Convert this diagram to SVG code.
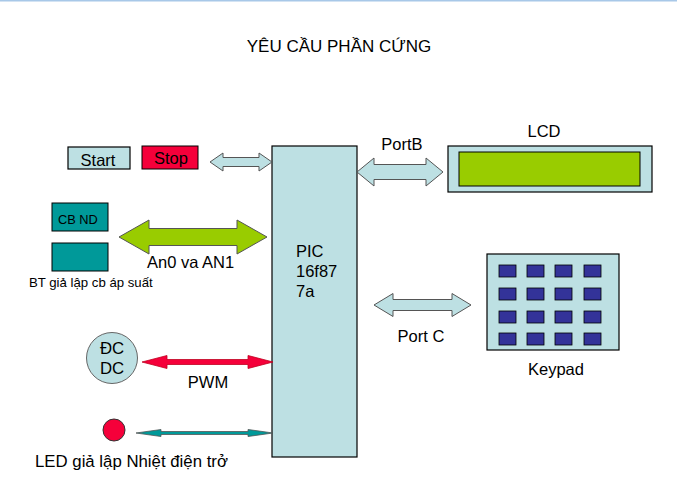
<svg xmlns="http://www.w3.org/2000/svg" width="677" height="499" viewBox="0 0 677 499">
<style>
text{font-family:"Liberation Sans",Arial,sans-serif;fill:#000;font-size:16.5px;}
.lb{fill:#bde0e3;stroke:#000;stroke-width:1.2;}
.teal{fill:#009999;stroke:#000;stroke-width:1;}
.key{fill:#333399;stroke:#000;stroke-width:0.8;}
.arw{stroke:#555;stroke-width:1;stroke-linejoin:miter;}
</style>
<rect width="677" height="499" fill="#fff"/>
<line x1="0" y1="0.5" x2="677" y2="0.5" stroke="#a8c8e8" stroke-width="2"/>
<text x="339" y="52" style="font-size:17px" text-anchor="middle">YÊU CẦU PHẦN CỨNG</text>

<g id="start"><rect class="lb" x="68" y="147" width="62" height="22"/><text x="98" y="166" text-anchor="middle">Start</text></g>
<g id="stop"><rect x="142" y="146" width="56" height="23" fill="#f5003a" stroke="#000" stroke-width="1"/><text x="171" y="164" text-anchor="middle">Stop</text></g>
<g id="cbnd"><rect class="teal" x="52" y="203" width="56" height="28"/><text x="58" y="224" style="font-size:12.8px">CB ND</text></g>
<g id="btcb"><rect class="teal" x="52" y="243" width="56" height="28"/><text x="29" y="287" style="font-size:13.2px">BT giả lập cb áp suất</text></g>
<g id="dcmotor"><circle cx="112" cy="358" r="25.5" fill="#bde0e3" stroke="#666" stroke-width="1"/><text x="112" y="354" style="font-size:16.8px" text-anchor="middle">ĐC</text><text x="112" y="374" style="font-size:16.8px" text-anchor="middle">DC</text></g>
<g id="led"><circle cx="114" cy="430" r="11" fill="#f5003a" stroke="#333" stroke-width="1"/><text x="35" y="467" style="font-size:16.8px">LED giả lập Nhiệt điện trở</text></g>
<g id="pic"><rect class="lb" x="272" y="146" width="85" height="311"/><text x="296" y="257">PIC</text><text x="296" y="277">16f87</text><text x="296" y="297">7a</text></g>
<g id="lcd"><rect class="lb" x="448" y="146" width="204" height="46"/><rect x="459" y="152" width="181" height="34" fill="#99cc00" stroke="#000" stroke-width="1"/><text x="544" y="137" text-anchor="middle">LCD</text></g>
<g id="keypad"><rect class="lb" x="487" y="254" width="132" height="96"/>
<rect class="key" x="499" y="265" width="17" height="12"/><rect class="key" x="527" y="265" width="17" height="12"/><rect class="key" x="555" y="265" width="17" height="12"/><rect class="key" x="584" y="265" width="17" height="12"/>
<rect class="key" x="499" y="288" width="17" height="12"/><rect class="key" x="527" y="288" width="17" height="12"/><rect class="key" x="555" y="288" width="17" height="12"/><rect class="key" x="584" y="288" width="17" height="12"/>
<rect class="key" x="499" y="311" width="17" height="12"/><rect class="key" x="527" y="311" width="17" height="12"/><rect class="key" x="555" y="311" width="17" height="12"/><rect class="key" x="584" y="311" width="17" height="12"/>
<rect class="key" x="499" y="333" width="17" height="12"/><rect class="key" x="527" y="333" width="17" height="12"/><rect class="key" x="555" y="333" width="17" height="12"/><rect class="key" x="584" y="333" width="17" height="12"/>
<text x="556" y="375" text-anchor="middle">Keypad</text></g>

<g id="connectors">
<path class="arw" fill="#bde0e3" d="M210 162 L223 153 L223 157.5 L259 157.5 L259 153 L272 162 L259 171 L259 166.5 L223 166.5 L223 171 Z"/>
<path class="arw" fill="#bde0e3" d="M357 172 L374 158 L374 164.5 L426 164.5 L426 158 L443 172 L426 186 L426 179.5 L374 179.5 L374 186 Z"/>
<text x="402" y="150" text-anchor="middle">PortB</text>
<path class="arw" fill="#99cc00" d="M119 237 L149 220 L149 228.5 L237 228.5 L237 220 L267 237 L237 254 L237 245.5 L149 245.5 L149 254 Z"/>
<text x="147" y="268">An0 va AN1</text>
<path stroke="#c00020" stroke-width="0.8" fill="#f5003a" d="M142 362 L167 355.5 L167 359.5 L248 359.5 L248 355.5 L273 362 L248 368.5 L248 364.5 L167 364.5 L167 368.5 Z"/>
<text x="208" y="388" text-anchor="middle">PWM</text>
<path stroke="#555" stroke-width="0.8" fill="#009999" d="M136 433 L161 429.5 L161 431.5 L248 431.5 L248 429.5 L273 433 L248 436.5 L248 434.5 L161 434.5 L161 436.5 Z"/>
<path class="arw" fill="#bde0e3" d="M374 305 L393 293.5 L393 299.5 L452 299.5 L452 293.5 L471 305 L452 316.5 L452 310.5 L393 310.5 L393 316.5 Z"/>
<text x="421" y="342" text-anchor="middle">Port C</text>
</g>
</svg>
